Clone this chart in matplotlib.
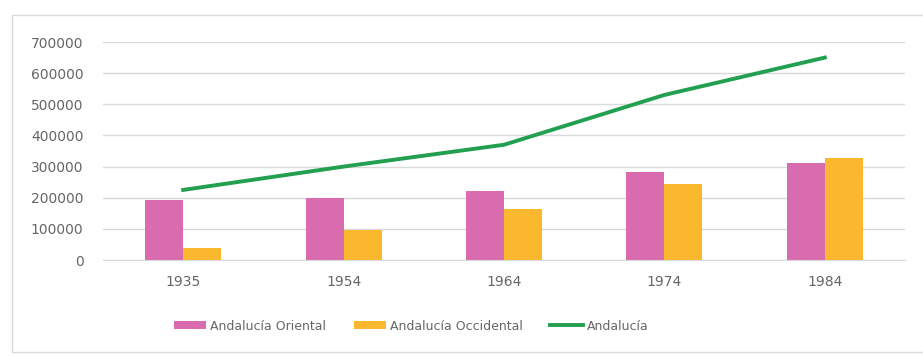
import matplotlib
matplotlib.use("Agg")
import matplotlib.pyplot as plt
import numpy as np
from matplotlib.patches import Rectangle

years = ["1935", "1954", "1964", "1974", "1984"]
oriental = [193000, 199000, 222000, 284000, 312000]
occidental = [39000, 96000, 164000, 244000, 328000]
andalucia = [225000, 300000, 370000, 530000, 650000]
yticks = [0, 100000, 200000, 300000, 400000, 500000, 600000, 700000]

c_pink = "#D96BAF"
c_orange = "#FBB72E"
c_green = "#22A050"
c_text = "#666666"
c_grid = "#D9D9D9"

fig = plt.figure(figsize=(9.23, 3.56), dpi=100)
fig.patch.set_facecolor("white")
fig.add_artist(Rectangle((12/923, 4/356), 1 - 12/923 + 0.01, 1 - 19/356, transform=fig.transFigure,
                         fill=False, edgecolor=c_grid, linewidth=1))

ax = fig.add_axes([103/923, 1 - 260/356, (905 - 103)/923, (260 - 42)/356])
x = np.arange(len(years))
w = 0.237
h1 = ax.bar(x - w/2, oriental, width=w, color=c_pink, label="Andalucía Oriental", zorder=2)
h2 = ax.bar(x + w/2, occidental, width=w, color=c_orange, label="Andalucía Occidental", zorder=2)
h3, = ax.plot(x, andalucia, color=c_green, linewidth=2.8, label="Andalucía", zorder=3)

ax.set_xlim(-0.5, len(years) - 0.5)
ax.set_ylim(0, 700000)
ax.set_yticks(yticks)
ax.set_yticklabels([str(v) for v in yticks])
ax.set_xticks(x)
ax.set_xticklabels(years)
ax.yaxis.grid(True, color=c_grid, linewidth=1, zorder=0)
ax.set_axisbelow(True)
for s in ["top", "right", "left"]:
    ax.spines[s].set_visible(False)
ax.spines["bottom"].set_color(c_grid)
ax.tick_params(axis="both", length=0, colors=c_text, labelsize=10)
ax.tick_params(axis="x", pad=11)
ax.tick_params(axis="y", pad=14)

leg = fig.legend([h1, h2, h3], ["Andalucía Oriental", "Andalucía Occidental", "Andalucía"],
                 loc="center", bbox_to_anchor=(411/923, 1 - 326/356), ncol=3, frameon=False,
                 fontsize=9, handlelength=2.6, handleheight=0.55, columnspacing=2.2, handletextpad=0.3)
for t in leg.get_texts():
    t.set_color(c_text)

fig.savefig("out.png", dpi=100, facecolor="white")
